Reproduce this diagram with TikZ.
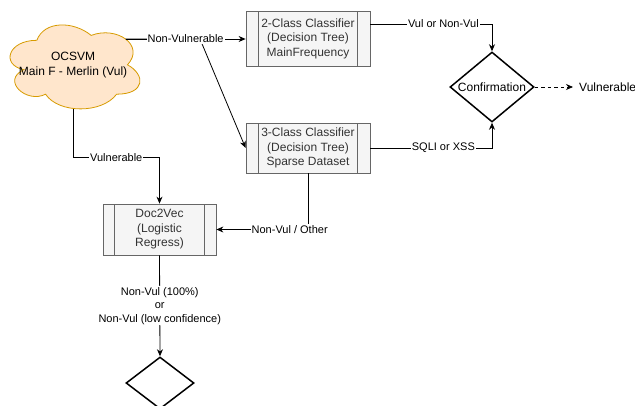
\documentclass[tikz,border=0pt]{standalone}
\usepackage{fontspec}
\setmainfont{Liberation Sans}
\usetikzlibrary{shapes.geometric,arrows.meta,calc}
\definecolor{boxfill}{HTML}{F5F5F5}
\definecolor{boxline}{HTML}{666666}
\definecolor{boxtext}{HTML}{333333}
\definecolor{cloudfill}{HTML}{FFE6CC}
\definecolor{cloudline}{HTML}{D79B00}
\tikzset{
  procbox/.style={draw=boxline, fill=boxfill, line width=0.8pt, text=boxtext,
    font=\fontsize{12}{14.5}\selectfont, align=center, inner sep=0pt,
    path picture={\draw[boxline, line width=0.8pt]
      ($(path picture bounding box.north west)!0.1!(path picture bounding box.north east)$) --
      ($(path picture bounding box.south west)!0.1!(path picture bounding box.south east)$)
      ($(path picture bounding box.north west)!0.9!(path picture bounding box.north east)$) --
      ($(path picture bounding box.south west)!0.9!(path picture bounding box.south east)$);}},
  decision/.style={diamond, draw=black, line width=1.5pt, inner sep=0pt},
  plaintxt/.style={font=\fontsize{12}{14.5}\selectfont, align=center, text=black},
  edge/.style={draw=black, line width=0.8pt, -{Stealth[length=7pt,width=6pt]}},
  lbl/.style={fill=white, inner sep=1pt, font=\fontsize{11}{13.5}\selectfont, align=center, text=black},
}
\begin{document}
\begin{tikzpicture}[x=1pt,y=-1pt]
\useasboundingbox (0,0) rectangle (635,405);
\clip (0,0) rectangle (635,405);

% OCSVM cloud
\filldraw[fill=cloudfill, draw=cloudline, line width=0.8pt]
  (36.85,40.3) .. controls (7.85,40.3) and (0.6,64.8) .. (23.8,69.7)
  .. controls (0.6,80.5) and (26.7,104.0) .. (45.55,94.2)
  .. controls (58.6,113.8) and (102.1,113.8) .. (116.6,94.2)
  .. controls (145.6,94.2) and (145.6,74.6) .. (127.5,64.8)
  .. controls (145.6,45.2) and (116.6,25.6) .. (91.2,35.4)
  .. controls (73.1,20.7) and (44.1,20.7) .. (36.85,40.3) -- cycle;
\node[minimum width=145pt, minimum height=98pt, inner sep=0pt] (cloud) at (73.1,64.8) {};
\node[plaintxt] (cloudtxt) at (cloud.center) {OCSVM\\Main F - Merlin (Vul)};
\coordinate (cloudE) at (125.6,39);
\coordinate (cloudS) at (73,108.9);

% classifiers
\node[procbox, minimum width=124pt, minimum height=55pt] (c2) at (308,38.5)
  {2-Class Classifier\\(Decision Tree)\\MainFrequency};
\node[procbox, minimum width=124pt, minimum height=50pt] (c3) at (308,148)
  {3-Class Classifier\\(Decision Tree)\\Sparse Dataset};
\node[procbox, minimum width=113pt, minimum height=51pt] (doc) at (159.5,229.5)
  {Doc2Vec\\(Logistic\\Regress)};

% decisions
\node[decision, minimum width=84pt, minimum height=70pt] (conf) at (492,87) {};
\node[plaintxt] (conftxt) at (conf.center) {Confirmation};
\node[decision, minimum width=68pt, minimum height=52pt] (dec2) at (160,383) {};
\node[plaintxt, anchor=west, inner xsep=6pt] (vul) at (573,87) {Vulnerable};

% connectors
\coordinate (bend) at (200,39);
\draw[edge] (cloudE) -- (bend) -- (c3.west);
\draw[edge] (cloudE) -- node[lbl]{Non-Vulnerable} (cloudE -| c2.west);
\draw[edge] ([yshift=14.5pt]c2.east) -| node[lbl,pos=0.3]{Vul or Non-Vul} (conf.north);
\draw[edge] (c3.east) -| node[lbl,pos=0.3]{SQLI or XSS} (conf.south);
\draw[edge, dash pattern=on 3.5pt off 3pt] (conf.east) -- (vul.west);
\draw[edge] (cloudS) |- node[lbl,pos=0.75]{Vulnerable} ([yshift=46pt]doc.north) -- (doc.north);
\draw[edge] (c3.south) |- node[lbl,pos=0.6]{Non-Vul / Other} (doc.east);
\draw[edge] (doc.south) -- node[lbl]{Non-Vul (100\%)\\or\\Non-Vul (low confidence)} (dec2.north);
\end{tikzpicture}
\end{document}
